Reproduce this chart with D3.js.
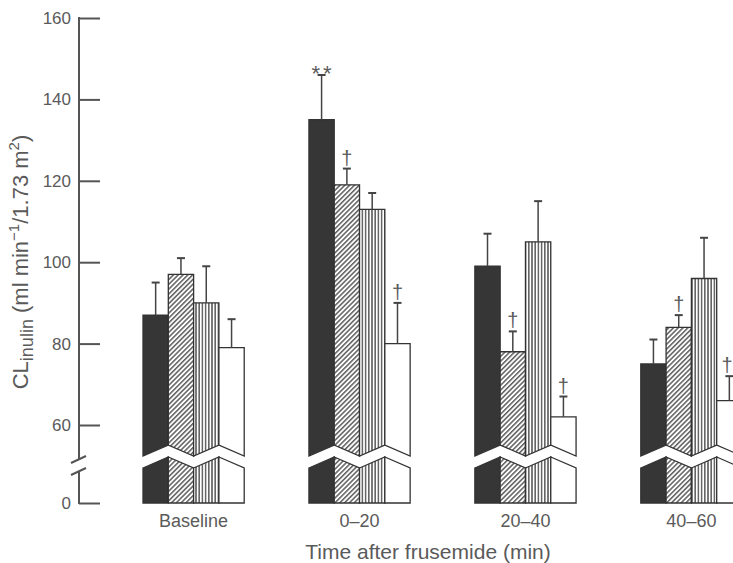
<!DOCTYPE html>
<html>
<head>
<meta charset="utf-8">
<script src="https://cdn.jsdelivr.net/npm/d3@7"></script>
<style>
body { margin: 0; background: #fff; }
text { font-family: "Liberation Sans", Arial, sans-serif; fill: #5a5a5a; }
</style>
</head>
<body>
<script>

var categories = ["Baseline", "0\u201320", "20\u201340", "40\u201360"];
var series = ["solid", "hatched", "striped", "open"];

// means per time period, one array per bar style
var solidMean   = [87, 135, 99, 75];
var hatchedMean = [97, 119, 78, 84];
var stripedMean = [90, 113, 105, 96];
var openMean    = [79, 80, 62, 66];

// top of the error bars
var solidErr   = [95, 146, 107, 81];
var hatchedErr = [101, 123, 83, 87];
var stripedErr = [99, 117, 115, 106];
var openErr    = [86, 90, 67, 72];

// significance marks
var markCat    = ["0\u201320", "0\u201320", "20\u201340", "40\u201360", "0\u201320", "20\u201340", "40\u201360"];
var markSeries = ["solid", "hatched", "hatched", "hatched", "open", "open", "open"];
var markText   = ["**", "\u2020", "\u2020", "\u2020", "\u2020", "\u2020", "\u2020"];

var yTicks = [0, 60, 80, 100, 120, 140, 160];

var width = 733, height = 563;

var means = {solid: solidMean, hatched: hatchedMean, striped: stripedMean, open: openMean};
var errs = {solid: solidErr, hatched: hatchedErr, striped: stripedErr, open: openErr};
var fills = {solid: "#363636", hatched: "url(#diag)", striped: "url(#vert)", open: "#fff"};

var rows = [];
categories.forEach(function(c, i){
	series.forEach(function(s){
		rows.push({cat: c, key: s, mean: means[s][i], err: errs[s][i]});
	});
});

var svg = d3.select("body").append("svg")
	.attr("width", width)
	.attr("height", height);

var defs = svg.append("defs");
var p1 = defs.append("pattern").attr("id", "diag")
	.attr("patternUnits", "userSpaceOnUse")
	.attr("width", 3.4).attr("height", 3.4)
	.attr("patternTransform", "rotate(45)");
p1.append("rect").attr("width", 3.4).attr("height", 3.4).attr("fill", "#fff");
p1.append("line").attr("x1", 0.8).attr("x2", 0.8).attr("y1", 0).attr("y2", 3.4)
	.attr("stroke", "#333").attr("stroke-width", 1.2);

var p2 = defs.append("pattern").attr("id", "vert")
	.attr("patternUnits", "userSpaceOnUse")
	.attr("width", 3.2).attr("height", 10);
p2.append("rect").attr("width", 3.2).attr("height", 10).attr("fill", "#fff");
p2.append("line").attr("x1", 0.8).attr("x2", 0.8).attr("y1", 0).attr("y2", 10)
	.attr("stroke", "#333").attr("stroke-width", 1.2);

var x = d3.scaleBand().domain(categories).range([143, 742]).paddingInner(0.39).paddingOuter(0);
var xs = d3.scaleBand().domain(series).range([0, x.bandwidth()]);
var y = d3.scaleLinear().domain([0, 60, 160]).range([503, 425, 18]);

//zigzag break across each group: valleys at the edges and middle, peaks between
var breakY = 456, breakAmp = 11, breakGap = 12;
function zig(gx, px){
	var t = (px - gx) / x.bandwidth() * 4;
	var f = 1 - Math.abs((t % 2) - 1);
	return breakY - breakAmp * f;
}

var line = d3.line();

var bars = svg.append("g").attr("class", "bars");
rows.forEach(function(d){
	var gx = x(d.cat);
	var x0 = gx + xs(d.key), x1 = x0 + xs.bandwidth();
	var top = [[x0, y(d.mean)], [x1, y(d.mean)], [x1, zig(gx, x1)], [x0, zig(gx, x0)]];
	var bot = [[x0, zig(gx, x0) + breakGap], [x1, zig(gx, x1) + breakGap], [x1, y(0)], [x0, y(0)]];
	[top, bot].forEach(function(pts){
		bars.append("path")
			.attr("d", line(pts) + "Z")
			.attr("fill", fills[d.key])
			.attr("stroke", "#333")
			.attr("stroke-width", 1.3)
			.attr("stroke-linejoin", "miter");
	});
	//error bar
	var cx = (x0 + x1) / 2;
	bars.append("line").attr("x1", cx).attr("x2", cx)
		.attr("y1", y(d.mean)).attr("y2", y(d.err))
		.attr("stroke", "#444").attr("stroke-width", 1.5);
	bars.append("line").attr("x1", cx - 4).attr("x2", cx + 4)
		.attr("y1", y(d.err)).attr("y2", y(d.err))
		.attr("stroke", "#444").attr("stroke-width", 2);
});

// marks above the error bars
markText.forEach(function(t, i){
	var row = rows.filter(function(r){ return r.cat == markCat[i] && r.key == markSeries[i]; })[0];
	var cx = x(row.cat) + xs(row.key) + xs.bandwidth() / 2;
	svg.append("text")
		.attr("x", t == "**" ? cx + 1.5 : Math.min(cx, width - 6))
		.attr("y", t == "**" ? y(row.err) + 6 : y(row.err) - 4)
		.attr("text-anchor", "middle")
		.attr("font-size", t == "**" ? 22 : 20)
		.attr("letter-spacing", t == "**" ? 3 : 0)
		.text(t);
});

// y axis
var ax = svg.append("g")
	.attr("transform", "translate(79,0)")
	.call(d3.axisLeft(y).tickValues(yTicks).tickSize(-21).tickPadding(8));
ax.select(".domain").remove();
ax.selectAll(".tick line").attr("stroke", "#555").attr("stroke-width", 2);
ax.selectAll(".tick text").attr("font-size", 17).attr("fill", "#5a5a5a")
	.style("font-family", "'Liberation Sans', Arial, sans-serif");

//axis line with a break
var axc = "#555";
svg.append("line").attr("x1", 79).attr("x2", 79).attr("y1", y(160) - 1).attr("y2", 459).attr("stroke", axc).attr("stroke-width", 2);
svg.append("line").attr("x1", 71).attr("x2", 86).attr("y1", 463).attr("y2", 456).attr("stroke", axc).attr("stroke-width", 2);
svg.append("line").attr("x1", 71).attr("x2", 86).attr("y1", 475).attr("y2", 468).attr("stroke", axc).attr("stroke-width", 2);
svg.append("line").attr("x1", 79).attr("x2", 79).attr("y1", 471).attr("y2", y(0) + 1).attr("stroke", axc).attr("stroke-width", 2);

// category labels
svg.selectAll(".cat").data(categories).enter().append("text")
	.attr("class", "cat")
	.attr("x", function(d){ return x(d) + x.bandwidth() / 2; })
	.attr("y", 527)
	.attr("text-anchor", "middle")
	.attr("font-size", 18)
	.text(function(d){ return d; });

svg.append("text")
	.attr("x", 428).attr("y", 559)
	.attr("text-anchor", "middle")
	.attr("font-size", 21)
	.text("Time after frusemide (min)");

var yl = svg.append("text")
	.attr("transform", "translate(28,262) rotate(-90)")
	.attr("text-anchor", "middle")
	.attr("font-size", 22);
yl.append("tspan").text("CL");
yl.append("tspan").attr("font-size", 18).attr("dy", 5).text("inulin");
yl.append("tspan").attr("dy", -5).text(" (ml min");
yl.append("tspan").attr("font-size", 15).attr("dy", -9).text("\u22121");
yl.append("tspan").attr("dy", 9).text("/1.73 m");
yl.append("tspan").attr("font-size", 15).attr("dy", -9).text("2");
yl.append("tspan").attr("dy", 9).text(")");

</script>
</body>
</html>
